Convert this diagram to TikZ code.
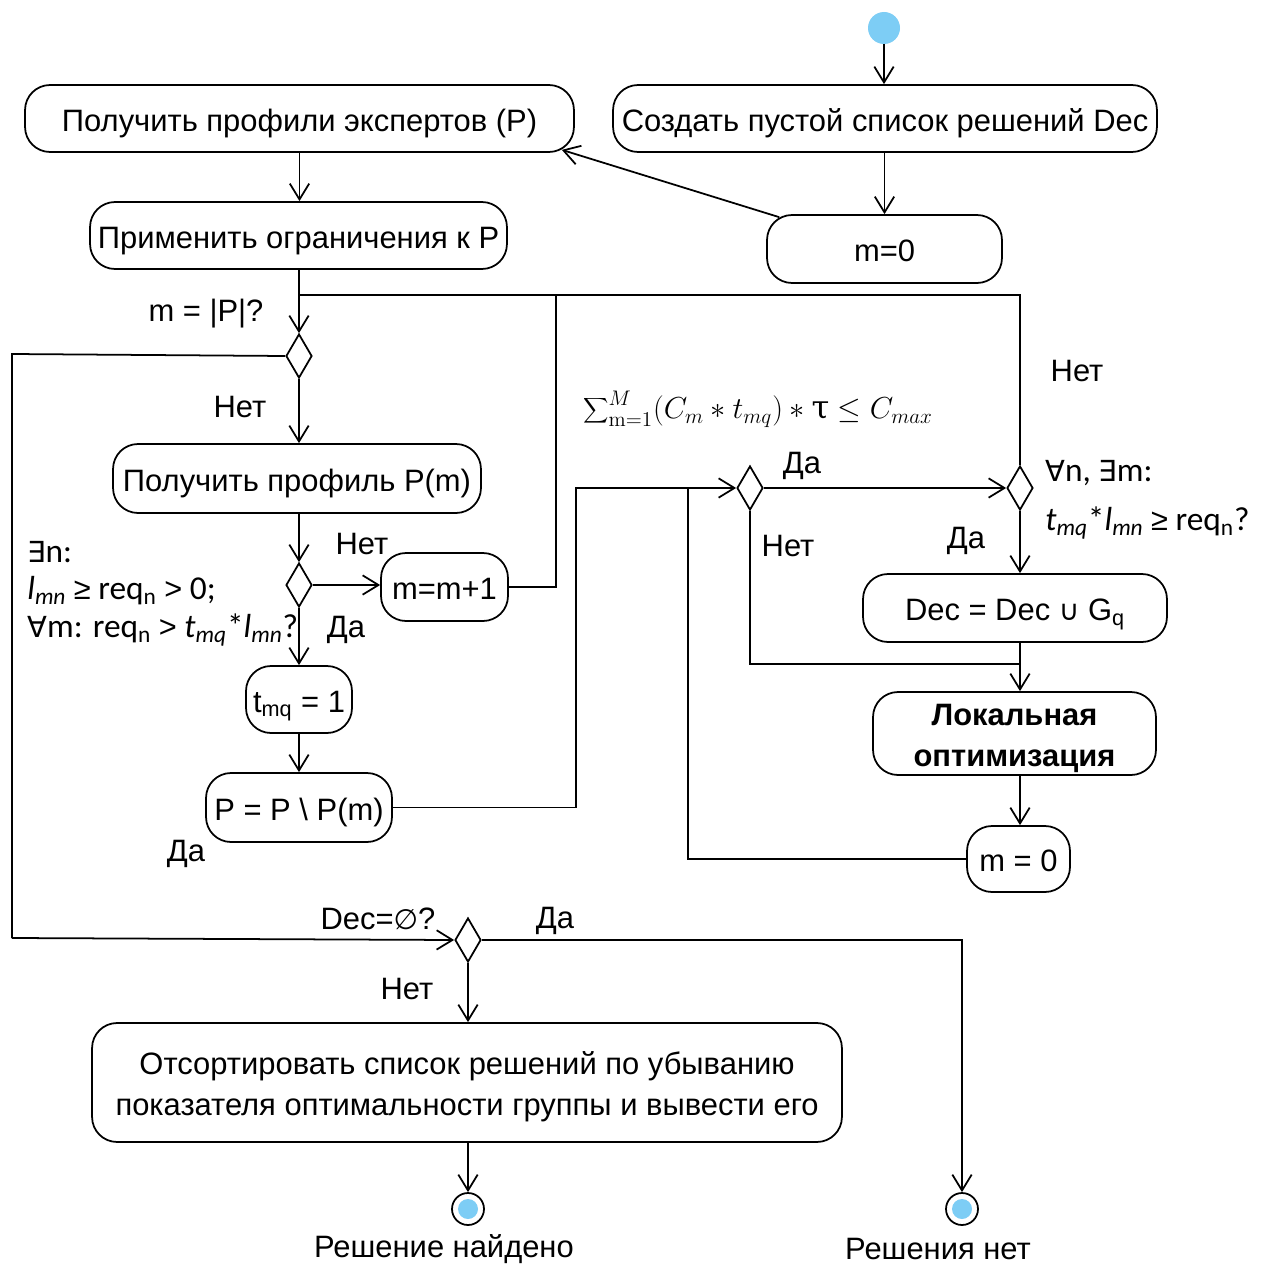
\documentclass[tikz,border=0pt]{standalone}
\usepackage[no-math]{fontspec}
\setmainfont{Liberation Sans}
\newfontfamily\calib{Carlito}
\newfontfamily\symf{DejaVu Sans}
\newfontfamily\libs{Liberation Sans}
\newfontfamily\serifg{DejaVu Serif}
\usetikzlibrary{arrows.meta,shapes.geometric,calc}
\definecolor{startblue}{RGB}{125,205,245}
\newcommand{\bx}[1]{\raisebox{-2.6pt}[\height][\depth]{\begin{tabular}{@{}c@{}}#1\end{tabular}}}
\newcommand{\relsym}[1]{{\libs\fontsize{17.5}{21.5}\selectfont #1}}
\tikzset{
  base/.style={line width=1pt},
  box/.style={base,draw,rounded corners=0.5cm,inner sep=0pt,align=center,font=\fontsize{17.6}{23}\selectfont},
  dia/.style={base,draw,diamond,inner sep=0pt,minimum width=0.52cm,minimum height=0.88cm},
  arr/.style={base,-{Straight Barb[length=9pt,width=11pt,line width=1pt]}},
  ln/.style={base},
  lbl/.style={font=\fontsize{17.6}{21}\selectfont,inner sep=0pt},
  cnd/.style={inner sep=0pt,font=\calib\fontsize{19}{21.5}\selectfont},
  endc/.style={base,draw,circle,minimum size=0.64cm,inner sep=0pt},
}
\begin{document}
\begin{tikzpicture}[x=0.02cm,y=-0.02cm]
\useasboundingbox (0,0) rectangle (1265,1264);
% start
\fill[startblue] (884,28) circle (16);
\coordinate (start) at (884,44);
% boxes
\node[box,minimum width=10.98cm,minimum height=1.34cm] (P) at (299.5,118.5) {\bx{Получить профили экспертов (P)}};
\node[box,minimum width=10.88cm,minimum height=1.34cm] (Dec) at (885,118.5) {\bx{Создать пустой список решений Dec}};
\node[box,minimum width=4.7cm,minimum height=1.36cm] (m0) at (884.5,249) {\bx{m=0}};
\node[box,minimum width=8.34cm,minimum height=1.34cm] (apply) at (298.5,235.5) {\bx{Применить ограничения к P}};
\node[box,minimum width=7.36cm,minimum height=1.38cm] (getPm) at (297,478.5) {\bx{Получить профиль P(m)}};
\node[box,minimum width=2.54cm,minimum height=1.36cm] (mm1) at (444.5,587) {\bx{m=m+1}};
\node[box,minimum width=2.12cm,minimum height=1.34cm] (tmq) at (299,699.5) {\bx{t\textsubscript{mq} = 1}};
\node[box,minimum width=3.72cm,minimum height=1.38cm] (PP) at (299,807.5) {\bx{P = P \textbackslash{} P(m)}};
\node[box,minimum width=6.08cm,minimum height=1.36cm] (DecU) at (1015,608) {\bx{Dec = Dec {\symf\fontsize{16}{20}\selectfont ∪} G\textsubscript{q}}};
\node[box,minimum width=5.66cm,minimum height=1.66cm,font=\fontsize{17.6}{23}\selectfont\bfseries] (Local) at (1014.5,733.5) {\bx{Локальная\\оптимизация}};
\node[box,minimum width=2.06cm,minimum height=1.32cm] (m02) at (1018.5,859) {\bx{m = 0}};
\node[box,minimum width=15cm,minimum height=2.38cm] (Sort) at (467,1082.5) {\bx{Отсортировать список решений по убыванию\\показателя оптимальности группы и вывести его}};
% diamonds
\node[dia] (d1) at (299,356) {};
\node[dia] (d2) at (299,585) {};
\node[dia] (d3) at (750,488) {};
\node[dia] (d4) at (1020,488) {};
\node[dia] (d5) at (468,940) {};
% end nodes
\node[endc] (end1) at (468,1209) {};
\fill[startblue] (end1) circle (10);
\node[endc] (end2) at (962,1209) {};
\fill[startblue] (end2) circle (10);
% helper coordinates
\coordinate (j1) at (299,295);
\coordinate (cL1) at (12,354);
\coordinate (cL2) at (12,938);
\coordinate (c688) at (688,488);
\coordinate (cj2) at (1020,664);
% connectors
\draw[arr] (start) -- (start |- Dec.north);
\draw[arr] (Dec.south -| m0) -- (m0.north);
\draw[arr] ($(m0.north west)+(13,3)$) -- ($(P.south east)+(-13,-3)$);
\draw[arr] (P.south) -- (P.south |- apply.north);
\draw[ln] (apply.south -| d1) -- (j1);
\draw[arr] (j1) -- (d1.north);
\draw[ln] (mm1.east) -- (556,587) -- (556,295) -- (j1);
\draw[ln] (d4.north) -- (1020,295) -- (j1);
\draw[ln] (d1.west) -- (cL1) -- (cL2);
\draw[arr] (cL2) -- (d5.west);
\draw[arr] (d1.south) -- (d1.south |- getPm.north);
\draw[arr] (getPm.south -| d2) -- (d2.north);
\draw[arr] (d2.east) -- (mm1.west |- d2.east);
\draw[arr] (d2.south) -- (tmq.north);
\draw[arr] (tmq.south) -- (PP.north);
\draw[arr] (PP.east) -- (576,807.5) -- (576,488) -- (d3.west);
\draw[ln] (m02.west) -| (c688);
\draw[arr] (d3.east) -- (d4.west);
\draw[ln] (d3.south) |- (cj2);
\draw[arr] (d4.south) -- (d4.south |- DecU.north);
\draw[arr] (DecU.south -| d4) -- (Local.north -| d4);
\draw[arr] (Local.south -| d4) -- (m02.north -| d4);
\draw[arr] (d5.east) -- (962,940) -- (end2.north);
\draw[arr] (d5.south) -- (Sort.north -| d5);
\draw[arr] (Sort.south -| end1) -- (end1.north);
% labels
\node[lbl] (l1) at (206,314) {m = |P|?};
\node[lbl] (l2) at (240,407) {Нет};
\node[lbl] (l3) at (362,544) {Нет};
\node[lbl] (l4) at (346,630) {Да};
\node[lbl] (l5) at (186,854) {Да};
\node[cnd,anchor=west] (c1a) at (27,552) {{\symf\fontsize{16.5}{21.5}\selectfont ∃}n:};
\node[cnd,anchor=west] (c1b) at (27,591) {\textit{l}\textsubscript{\textit{mn}} \relsym{≥} req\textsubscript{n} \relsym{>} 0;};
\node[cnd,anchor=west] (c1c) at (27,630) {{\symf\fontsize{16.5}{21.5}\selectfont ∀}m: req\textsubscript{n} \relsym{>} \textit{t}\textsubscript{\textit{mq}}*\textit{l}\textsubscript{\textit{mn}}?};
\node[lbl,font=\fontsize{18.3}{22}\selectfont] (form) at (758,409) {$\displaystyle\sum\nolimits_{\mathrm{m}=1}^{M}(C_m * t_{mq}) * \mbox{\serifg τ} \leq C_{max}$};
\node[lbl] (l6) at (802,466) {Да};
\node[lbl] (l7) at (788,546) {Нет};
\node[lbl] (l8) at (966,541) {Да};
\node[lbl] (l9) at (1077,371) {Нет};
\node[cnd,anchor=west] (c2a) at (1045,473) {{\symf\fontsize{16.5}{21.5}\selectfont ∀}n, {\symf\fontsize{16.5}{21.5}\selectfont ∃}m:};
\node[cnd,anchor=west] (c2b) at (1045,523) {\textit{t}\textsubscript{\textit{mq}}*\textit{l}\textsubscript{\textit{mn}} \relsym{≥} req\textsubscript{n}?};
\node[lbl] (l10) at (378,919) {Dec={\symf\fontsize{16}{20}\selectfont ∅}?};
\node[lbl] (l11) at (555,921) {Да};
\node[lbl] (l12) at (407,989) {Нет};
\node[lbl] (l13) at (444,1249) {Решение найдено};
\node[lbl] (l14) at (938,1249) {Решения нет};
\end{tikzpicture}
\end{document}
